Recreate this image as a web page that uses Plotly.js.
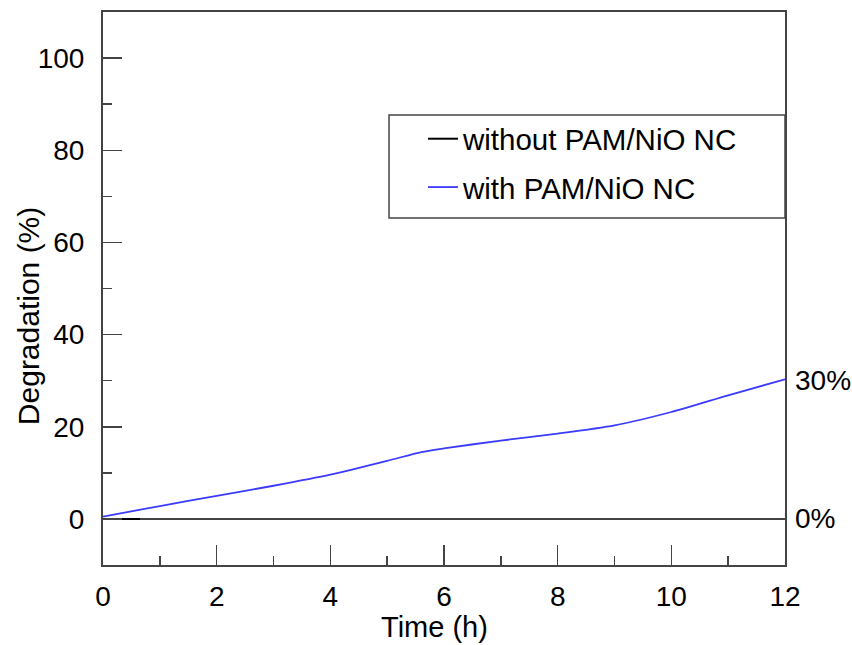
<!DOCTYPE html>
<html>
<head>
<meta charset="utf-8">
<script src="https://cdn.plot.ly/plotly-3.0.1.min.js"></script>
<style>html,body{margin:0;padding:0;background:#fff;}#chart{width:852px;height:645px;}</style>
</head>
<body>
<div id="chart"></div>
<script>
// Data
const timeH = [0, 1, 2, 3, 4, 5, 5.6, 6, 7, 8, 9, 10, 11, 12];
const withNC = [0.5, 2.8, 5.0, 7.2, 9.6, 12.6, 14.5, 15.3, 17.0, 18.5, 20.3, 23.2, 26.8, 30.3];
const withoutTime = [0, 0.65];
const withoutNC = [0, 0];
const seriesNames = ["without PAM/NiO NC", "with PAM/NiO NC"];
const xTicks = [0, 2, 4, 6, 8, 10, 12];
const yTicks = [0, 20, 40, 60, 80, 100];
const endLabels = ["30%", "0%"];
const endValues = [30, 0];
const xTitle = "Time (h)";
const yTitle = "Degradation (%)";

const FONT = "Liberation Sans, Arial, Helvetica, sans-serif";
const AX = "#444";

const traces = [
  {x: withoutTime, y: withoutNC, name: seriesNames[0], mode: "lines",
   line: {color: "#000000", width: 2}, legendgroup: "a"},
  {x: timeH, y: withNC, name: seriesNames[1], mode: "lines",
   line: {color: "#3b3bff", width: 1.8, shape: "spline", smoothing: 0.7}, legendgroup: "b"}
];

const annotations = endLabels.map((t, i) => ({
  text: t, xref: "paper", x: 1, yref: "y", y: endValues[i],
  xanchor: "left", yanchor: "middle", xshift: 8, showarrow: false,
  font: {family: FONT, size: 28, color: "#000"}
}));
annotations.push({
  text: yTitle, textangle: -90, xref: "paper", x: 0, xanchor: "center",
  xshift: -75, yref: "y", y: 44, yanchor: "middle", showarrow: false,
  font: {family: FONT, size: 30, color: "#000"}
});
annotations.push({
  text: xTitle, xref: "x", x: 5.84, xanchor: "center",
  yref: "paper", y: 0, yanchor: "bottom", yshift: -79, showarrow: false, borderpad: 0,
  font: {family: FONT, size: 29, color: "#000"}
});

const layout = {
  width: 852, height: 645,
  margin: {l: 103, r: 67, t: 12, b: 80, pad: 0},
  paper_bgcolor: "#fff", plot_bgcolor: "#fff",
  font: {family: FONT, size: 28, color: "#000"},
  showlegend: true,
  legend: {x: 0.4692, xanchor: "left", y: 0.8173, yanchor: "top",
           bgcolor: "rgba(0,0,0,0)", borderwidth: 0,
           font: {family: FONT, size: 29.5, color: "#000"},
           tracegroupgap: 7, traceorder: "grouped"},
  xaxis: {range: [0, 12], tickvals: xTicks, ticks: "inside", ticklen: 20, tickwidth: 1.5,
          tickcolor: AX, showline: true, linecolor: AX, linewidth: 2, mirror: true,
          showgrid: false, zeroline: false, ticklabelstandoff: 5,
          minor: {dtick: 1, ticks: "inside", ticklen: 9, tickwidth: 1.5, tickcolor: AX, showgrid: false},
          tickfont: {family: FONT, size: 28}},
  yaxis: {range: [-10, 110], tickvals: yTicks, ticks: "inside", ticklen: 19, tickwidth: 1.5,
          tickcolor: AX, showline: true, linecolor: AX, linewidth: 2, mirror: true,
          showgrid: false, zeroline: true, zerolinecolor: AX, zerolinewidth: 1.5,
          ticklabelstandoff: 11,
          minor: {dtick: 10, ticks: "inside", ticklen: 9, tickwidth: 1.5, tickcolor: AX, showgrid: false},
          tickfont: {family: FONT, size: 28}},
  shapes: [{type: "rect", xref: "paper", yref: "paper", x0: 0.4194, x1: 1, y0: 0.6275, y1: 0.8137,
            line: {color: AX, width: 1.5}, fillcolor: "rgba(0,0,0,0)", layer: "above"}],
  annotations: annotations
};

Plotly.newPlot("chart", traces, layout, {displayModeBar: false, staticPlot: true});
</script>
</body>
</html>
